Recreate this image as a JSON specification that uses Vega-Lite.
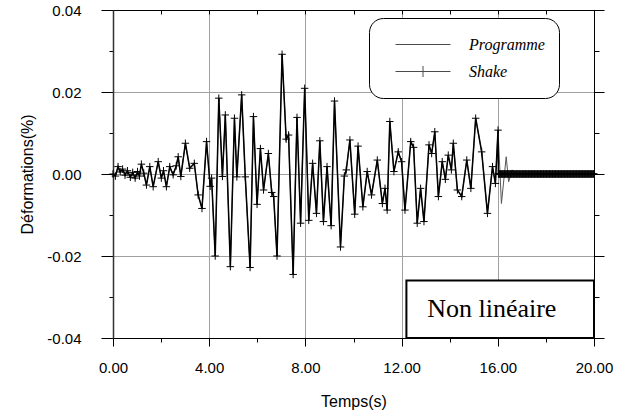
{
  "$schema": "https://vega.github.io/schema/vega-lite/v6.json",
  "width": 481,
  "height": 328,
  "autosize": {"type": "none"},
  "padding": {"left": 113, "top": 10, "right": 33, "bottom": 78},
  "config": {"view": {"stroke": "black", "strokeWidth": 1}, "font": "Liberation Sans"},
  "datasets": {
    "serie": [
      {"t":0,"Programme":0,"Shake":0},{"t":0.1,"Programme":-0.0005,"Shake":-0.0005},{"t":0.21,"Programme":0.0018,"Shake":0.0018},{"t":0.3,"Programme":0.0005,"Shake":0.0005},{"t":0.4,"Programme":0.0012,"Shake":0.0012},{"t":0.5,"Programme":-0.0003,"Shake":-0.0003},{"t":0.6,"Programme":0.0008,"Shake":0.0008},{"t":0.72,"Programme":-0.0008,"Shake":-0.0008},{"t":0.82,"Programme":0.0004,"Shake":0.0004},{"t":0.92,"Programme":-0.001,"Shake":-0.001},{"t":1.02,"Programme":0.0006,"Shake":0.0006},{"t":1.1,"Programme":-0.0005,"Shake":-0.0005},{"t":1.18,"Programme":0.0024,"Shake":0.0024},{"t":1.28,"Programme":0.0002,"Shake":0.0002},{"t":1.39,"Programme":-0.0027,"Shake":-0.0027},{"t":1.53,"Programme":0.0018,"Shake":0.0018},{"t":1.67,"Programme":-0.0031,"Shake":-0.0031},{"t":1.88,"Programme":0.003,"Shake":0.003},{"t":2.01,"Programme":-0.001,"Shake":-0.001},{"t":2.1,"Programme":0.0008,"Shake":0.0008},{"t":2.22,"Programme":-0.0031,"Shake":-0.0031},{"t":2.36,"Programme":0.0018,"Shake":0.0018},{"t":2.5,"Programme":-0.0002,"Shake":-0.0002},{"t":2.63,"Programme":0.002,"Shake":0.002},{"t":2.71,"Programme":0.0042,"Shake":0.0042},{"t":2.82,"Programme":-0.0006,"Shake":-0.0006},{"t":3.01,"Programme":0.0075,"Shake":0.0075},{"t":3.19,"Programme":0.0014,"Shake":0.0014},{"t":3.38,"Programme":0.0026,"Shake":0.0026},{"t":3.54,"Programme":-0.0051,"Shake":-0.0051},{"t":3.7,"Programme":-0.0084,"Shake":-0.0084},{"t":3.89,"Programme":0.0079,"Shake":0.0079},{"t":4.04,"Programme":-0.003,"Shake":-0.003},{"t":4.1,"Programme":-0.001,"Shake":-0.001},{"t":4.25,"Programme":-0.02,"Shake":-0.02},{"t":4.4,"Programme":0.0185,"Shake":0.0185},{"t":4.55,"Programme":-0.0006,"Shake":-0.0006},{"t":4.67,"Programme":0.0144,"Shake":0.0144},{"t":4.88,"Programme":-0.0226,"Shake":-0.0226},{"t":5.05,"Programme":0.0136,"Shake":0.0136},{"t":5.15,"Programme":-0.0007,"Shake":-0.0007},{"t":5.35,"Programme":0.0193,"Shake":0.0193},{"t":5.5,"Programme":-0.0007,"Shake":-0.0007},{"t":5.7,"Programme":-0.0228,"Shake":-0.0228},{"t":5.84,"Programme":0.014,"Shake":0.014},{"t":5.99,"Programme":-0.0074,"Shake":-0.0074},{"t":6.13,"Programme":0.0062,"Shake":0.0062},{"t":6.26,"Programme":-0.0039,"Shake":-0.0039},{"t":6.46,"Programme":0.005,"Shake":0.005},{"t":6.6,"Programme":-0.0045,"Shake":-0.0045},{"t":6.68,"Programme":-0.0055,"Shake":-0.0055},{"t":6.82,"Programme":-0.02,"Shake":-0.02},{"t":7.03,"Programme":0.0292,"Shake":0.0292},{"t":7.2,"Programme":0.0085,"Shake":0.0085},{"t":7.3,"Programme":0.0095,"Shake":0.0095},{"t":7.49,"Programme":-0.0245,"Shake":-0.0245},{"t":7.65,"Programme":0.0138,"Shake":0.0138},{"t":7.8,"Programme":-0.012,"Shake":-0.012},{"t":7.97,"Programme":0.0209,"Shake":0.0209},{"t":8.14,"Programme":-0.0113,"Shake":-0.0113},{"t":8.3,"Programme":0.0026,"Shake":0.0026},{"t":8.46,"Programme":-0.0096,"Shake":-0.0096},{"t":8.6,"Programme":0.0081,"Shake":0.0081},{"t":8.75,"Programme":-0.0116,"Shake":-0.0116},{"t":8.9,"Programme":0.0018,"Shake":0.0018},{"t":9.07,"Programme":-0.0126,"Shake":-0.0126},{"t":9.21,"Programme":0.0178,"Shake":0.0178},{"t":9.46,"Programme":-0.0178,"Shake":-0.0178},{"t":9.62,"Programme":-0.0005,"Shake":-0.0005},{"t":9.7,"Programme":0.001,"Shake":0.001},{"t":9.85,"Programme":0.0083,"Shake":0.0083},{"t":10.05,"Programme":-0.0098,"Shake":-0.0098},{"t":10.19,"Programme":0.0068,"Shake":0.0068},{"t":10.39,"Programme":-0.008,"Shake":-0.008},{"t":10.57,"Programme":0.0006,"Shake":0.0006},{"t":10.75,"Programme":-0.0051,"Shake":-0.0051},{"t":10.99,"Programme":0.0034,"Shake":0.0034},{"t":11.2,"Programme":-0.0072,"Shake":-0.0072},{"t":11.31,"Programme":-0.0035,"Shake":-0.0035},{"t":11.4,"Programme":-0.0088,"Shake":-0.0088},{"t":11.51,"Programme":0.0128,"Shake":0.0128},{"t":11.68,"Programme":0.0006,"Shake":0.0006},{"t":11.86,"Programme":0.0054,"Shake":0.0054},{"t":12.0,"Programme":0.003,"Shake":0.003},{"t":12.14,"Programme":-0.0088,"Shake":-0.0088},{"t":12.38,"Programme":0.0079,"Shake":0.0079},{"t":12.5,"Programme":0.0065,"Shake":0.0065},{"t":12.65,"Programme":-0.012,"Shake":-0.012},{"t":12.79,"Programme":-0.0035,"Shake":-0.0035},{"t":12.93,"Programme":-0.0116,"Shake":-0.0116},{"t":13.14,"Programme":0.0071,"Shake":0.0071},{"t":13.25,"Programme":0.005,"Shake":0.005},{"t":13.38,"Programme":0.0103,"Shake":0.0103},{"t":13.53,"Programme":-0.0055,"Shake":-0.0055},{"t":13.69,"Programme":0.003,"Shake":0.003},{"t":13.82,"Programme":-0.0013,"Shake":-0.0013},{"t":13.94,"Programme":0.0046,"Shake":0.0046},{"t":14.07,"Programme":0.001,"Shake":0.001},{"t":14.15,"Programme":0.0075,"Shake":0.0075},{"t":14.32,"Programme":-0.0039,"Shake":-0.0039},{"t":14.5,"Programme":-0.0055,"Shake":-0.0055},{"t":14.71,"Programme":0.0034,"Shake":0.0034},{"t":14.88,"Programme":-0.0035,"Shake":-0.0035},{"t":15.08,"Programme":0.0136,"Shake":0.0136},{"t":15.33,"Programme":0.0054,"Shake":0.0054},{"t":15.57,"Programme":-0.0096,"Shake":-0.0096},{"t":15.78,"Programme":0.0018,"Shake":0.0018},{"t":15.9,"Programme":-0.0023,"Shake":-0.0023},{"t":16.01,"Programme":0.0107,"Shake":0.0107},
      {"t":16.025,"Shake":0},{"t":16.05,"Shake":0},{"t":16.075,"Shake":0},{"t":16.1,"Shake":0},{"t":16.125,"Shake":0},{"t":16.15,"Programme":-0.0072,"Shake":0},{"t":16.175,"Shake":0},{"t":16.2,"Shake":0},{"t":16.225,"Shake":0},{"t":16.25,"Shake":0},{"t":16.275,"Shake":0},{"t":16.3,"Shake":0},{"t":16.325,"Shake":0},{"t":16.35,"Programme":0.0042,"Shake":0},{"t":16.375,"Shake":0},{"t":16.4,"Shake":0},{"t":16.425,"Shake":0},{"t":16.45,"Programme":-0.0019,"Shake":0},{"t":16.475,"Shake":0},{"t":16.5,"Shake":0},{"t":16.525,"Shake":0},{"t":16.55,"Shake":0},{"t":16.575,"Shake":0},{"t":16.6,"Programme":0.001,"Shake":0},{"t":16.625,"Shake":0},{"t":16.65,"Shake":0},{"t":16.675,"Shake":0},{"t":16.7,"Programme":0,"Shake":0},{"t":16.725,"Shake":0},{"t":16.75,"Shake":0},{"t":16.775,"Shake":0},{"t":16.8,"Shake":0},{"t":16.825,"Shake":0},{"t":16.85,"Shake":0},{"t":16.875,"Shake":0},{"t":16.9,"Shake":0},{"t":16.925,"Shake":0},{"t":16.95,"Shake":0},{"t":16.975,"Shake":0},
      {"t":17.0,"Shake":0},{"t":17.025,"Shake":0},{"t":17.05,"Shake":0},{"t":17.075,"Shake":0},{"t":17.1,"Shake":0},{"t":17.125,"Shake":0},{"t":17.15,"Shake":0},{"t":17.175,"Shake":0},{"t":17.2,"Shake":0},{"t":17.225,"Shake":0},{"t":17.25,"Shake":0},{"t":17.275,"Shake":0},{"t":17.3,"Shake":0},{"t":17.325,"Shake":0},{"t":17.35,"Shake":0},{"t":17.375,"Shake":0},{"t":17.4,"Shake":0},{"t":17.425,"Shake":0},{"t":17.45,"Shake":0},{"t":17.475,"Shake":0},{"t":17.5,"Shake":0},{"t":17.525,"Shake":0},{"t":17.55,"Shake":0},{"t":17.575,"Shake":0},{"t":17.6,"Shake":0},{"t":17.625,"Shake":0},{"t":17.65,"Shake":0},{"t":17.675,"Shake":0},{"t":17.7,"Shake":0},{"t":17.725,"Shake":0},{"t":17.75,"Shake":0},{"t":17.775,"Shake":0},{"t":17.8,"Shake":0},{"t":17.825,"Shake":0},{"t":17.85,"Shake":0},{"t":17.875,"Shake":0},{"t":17.9,"Shake":0},{"t":17.925,"Shake":0},{"t":17.95,"Shake":0},{"t":17.975,"Shake":0},
      {"t":18.0,"Shake":0},{"t":18.025,"Shake":0},{"t":18.05,"Shake":0},{"t":18.075,"Shake":0},{"t":18.1,"Shake":0},{"t":18.125,"Shake":0},{"t":18.15,"Shake":0},{"t":18.175,"Shake":0},{"t":18.2,"Shake":0},{"t":18.225,"Shake":0},{"t":18.25,"Shake":0},{"t":18.275,"Shake":0},{"t":18.3,"Shake":0},{"t":18.325,"Shake":0},{"t":18.35,"Shake":0},{"t":18.375,"Shake":0},{"t":18.4,"Shake":0},{"t":18.425,"Shake":0},{"t":18.45,"Shake":0},{"t":18.475,"Shake":0},{"t":18.5,"Shake":0},{"t":18.525,"Shake":0},{"t":18.55,"Shake":0},{"t":18.575,"Shake":0},{"t":18.6,"Shake":0},{"t":18.625,"Shake":0},{"t":18.65,"Shake":0},{"t":18.675,"Shake":0},{"t":18.7,"Shake":0},{"t":18.725,"Shake":0},{"t":18.75,"Shake":0},{"t":18.775,"Shake":0},{"t":18.8,"Shake":0},{"t":18.825,"Shake":0},{"t":18.85,"Shake":0},{"t":18.875,"Shake":0},{"t":18.9,"Shake":0},{"t":18.925,"Shake":0},{"t":18.95,"Shake":0},{"t":18.975,"Shake":0},
      {"t":19.0,"Shake":0},{"t":19.025,"Shake":0},{"t":19.05,"Shake":0},{"t":19.075,"Shake":0},{"t":19.1,"Shake":0},{"t":19.125,"Shake":0},{"t":19.15,"Shake":0},{"t":19.175,"Shake":0},{"t":19.2,"Shake":0},{"t":19.225,"Shake":0},{"t":19.25,"Shake":0},{"t":19.275,"Shake":0},{"t":19.3,"Shake":0},{"t":19.325,"Shake":0},{"t":19.35,"Shake":0},{"t":19.375,"Shake":0},{"t":19.4,"Shake":0},{"t":19.425,"Shake":0},{"t":19.45,"Shake":0},{"t":19.475,"Shake":0},{"t":19.5,"Shake":0},{"t":19.525,"Shake":0},{"t":19.55,"Shake":0},{"t":19.575,"Shake":0},{"t":19.6,"Shake":0},{"t":19.625,"Shake":0},{"t":19.65,"Shake":0},{"t":19.675,"Shake":0},{"t":19.7,"Shake":0},{"t":19.725,"Shake":0},{"t":19.75,"Shake":0},{"t":19.775,"Shake":0},{"t":19.8,"Shake":0},{"t":19.825,"Shake":0},{"t":19.85,"Shake":0},{"t":19.875,"Shake":0},{"t":19.9,"Shake":0},{"t":19.925,"Shake":0},{"t":19.95,"Shake":0},{"t":19.975,"Shake":0},{"t":20.0,"Programme":0,"Shake":0}
    ],
    "note": [{"label": "Non linéaire"}]
  },
  "layer": [
    {
      "data": {"name": "serie"},
      "transform": [
        {"fold": ["Programme"], "as": ["serie", "v"]},
        {"filter": "isValid(datum.v)"}
      ],
      "mark": {"type": "line", "strokeWidth": 1, "color": "#555555"},
      "encoding": {
        "x": {
          "field": "t", "type": "quantitative",
          "scale": {"domain": [0, 20], "nice": false, "zero": false},
          "axis": {
            "values": [0, 2, 4, 6, 8, 10, 12, 14, 16, 18, 20],
            "labelExpr": "datum.value % 4 === 0 ? format(datum.value, '.2f') : ''",
            "title": "Temps(s)",
            "titleFont": "Liberation Sans", "titleFontSize": 16, "titleFontWeight": "normal", "titleColor": "black", "titlePadding": 18,
            "labelFont": "Liberation Sans", "labelFontSize": 15, "labelColor": "black", "labelPadding": 14,
            "labelFlush": false, "labelOverlap": false,
            "tickSize": {"condition": {"test": "datum.value % 4 === 0", "value": 8}, "value": 4},
            "tickColor": "black", "domainColor": "black",
            "grid": true, "gridColor": "#a0a0a0",
            "gridOpacity": {"condition": {"test": "datum.value % 4 === 0 && datum.value > 0 && datum.value < 20", "value": 1}, "value": 0}
          }
        },
        "y": {
          "field": "v", "type": "quantitative",
          "scale": {"domain": [-0.04, 0.04], "nice": false, "zero": false},
          "axis": {
            "values": [-0.04, -0.03, -0.02, -0.01, 0, 0.01, 0.02, 0.03, 0.04],
            "labelExpr": "abs(round(datum.value * 100)) % 2 === 0 ? replace(format(datum.value, '.2f'), '\u2212', '-') : ''",
            "title": "Déformations(%)",
            "titleFont": "Liberation Sans", "titleFontSize": 16, "titleFontWeight": "normal", "titleColor": "black", "titlePadding": 11,
            "labelFont": "Liberation Sans", "labelFontSize": 15, "labelColor": "black", "labelPadding": 20,
            "labelFlush": false, "labelOverlap": false,
            "tickSize": {"condition": {"test": "abs(round(datum.value * 100)) % 2 === 0", "value": 12}, "value": 4},
            "tickColor": "black", "domainColor": "#333", "domainWidth": 1.5,
            "grid": true, "gridColor": "#a0a0a0",
            "gridOpacity": {"condition": {"test": "abs(round(datum.value * 100)) % 2 === 0 && abs(datum.value) < 0.035", "value": 1}, "value": 0}
          }
        }
      }
    },
    {
      "data": {"name": "serie"},
      "transform": [
        {"fold": ["Shake"], "as": ["serie", "v"]},
        {"filter": "isValid(datum.v)"}
      ],
      "mark": {"type": "line", "strokeWidth": 1.5, "color": "black"},
      "encoding": {
        "x": {"field": "t", "type": "quantitative", "axis": null},
        "y": {"field": "v", "type": "quantitative", "axis": null}
      }
    },
    {
      "data": {"name": "serie"},
      "transform": [
        {"fold": ["Shake"], "as": ["serie", "v"]},
        {"filter": "isValid(datum.v)"}
      ],
      "mark": {"type": "point", "shape": "M-1,0H1M0,-1V1", "size": 56, "filled": false, "color": "black", "strokeWidth": 1, "opacity": 1},
      "encoding": {
        "x": {
          "field": "t", "type": "quantitative",
          "axis": {
            "orient": "top", "values": [0, 2, 4, 6, 8, 10, 12, 14, 16, 18, 20],
            "labels": false, "title": null, "grid": false,
            "tickSize": -4, "tickColor": "black", "domainColor": "black"
          }
        },
        "y": {
          "field": "v", "type": "quantitative",
          "axis": {
            "orient": "right", "values": [-0.04, -0.03, -0.02, -0.01, 0, 0.01, 0.02, 0.03, 0.04],
            "labels": false, "title": null, "grid": false,
            "tickSize": {"condition": {"test": "abs(round(datum.value * 100)) % 2 === 0", "value": 10}, "value": 5},
            "tickColor": "black", "domainColor": "black"
          }
        }
      }
    },
    {
      "data": {"name": "serie"},
      "transform": [
        {"fold": ["Programme", "Shake"], "as": ["serie", "v"]},
        {"filter": "datum.t < 0"}
      ],
      "mark": {"type": "point", "filled": false, "color": "black", "strokeWidth": 1},
      "encoding": {
        "x": {"field": "t", "type": "quantitative", "axis": null},
        "y": {"field": "v", "type": "quantitative", "axis": null},
        "shape": {
          "field": "serie", "type": "nominal",
          "scale": {"domain": ["Programme", "Shake"], "range": ["M-1,0H1", "M-1,0H1M0,-0.2V0.2"]},
          "legend": {
            "title": null, "orient": "none", "legendX": 256, "legendY": 8,
            "padding": 14, "fillColor": "white", "strokeColor": "black", "cornerRadius": 14,
            "symbolSize": 3025, "symbolStrokeWidth": 1, "symbolStrokeColor": "black", "symbolFillColor": "transparent",
            "symbolOffset": 12, "labelOffset": 18, "clipHeight": 25,
            "labelFont": "Liberation Serif", "labelFontStyle": "italic", "labelFontSize": 16, "labelColor": "black"
          }
        }
      }
    },
    {
      "data": {"name": "note"},
      "mark": {"type": "rect", "fill": "white", "stroke": "black", "strokeWidth": 2},
      "encoding": {
        "x": {"datum": 12.2, "type": "quantitative", "axis": null},
        "x2": {"datum": 20},
        "y": {"datum": -0.04, "type": "quantitative", "axis": null},
        "y2": {"datum": -0.026}
      }
    },
    {
      "data": {"name": "note"},
      "mark": {"type": "text", "font": "Liberation Serif", "fontSize": 26, "color": "black", "align": "center", "baseline": "middle"},
      "encoding": {
        "x": {"datum": 15.75, "type": "quantitative", "axis": null},
        "y": {"datum": -0.033, "type": "quantitative", "axis": null},
        "text": {"field": "label", "type": "nominal"}
      }
    }
  ],
  "resolve": {"axis": {"x": "independent", "y": "independent"}}
}
